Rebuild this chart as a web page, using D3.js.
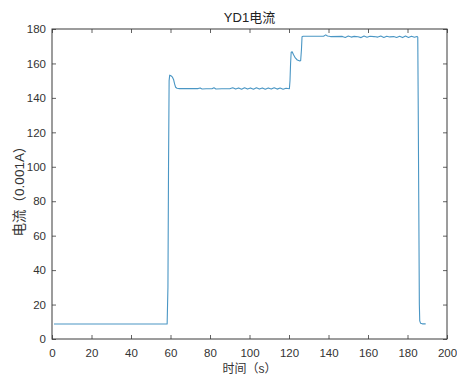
<!DOCTYPE html>
<html>
<head>
<meta charset="utf-8">
<script src="https://cdn.jsdelivr.net/npm/d3@7/dist/d3.min.js"></script>
<style>
  html, body { margin: 0; padding: 0; background: #fff; }
  svg { display: block; }
  .tick text { font-family: "Liberation Sans", Arial, sans-serif; font-size: 11.5px; fill: #333; }
</style>
</head>
<body>
<svg id="chart" width="457" height="377"></svg>
<script>
// YD1 current trace: time (s) and current (0.001 A)
const timeS = [
  1, 58.3,
  58.7, 59.0, 59.3, 59.6, 60.3, 61.0, 61.6, 62.1, 62.6, 63.3, 64.5,
  70, 74, 75, 76, 78, 81, 82, 83, 86, 90, 91.5, 93, 94.5, 96, 97.5, 99, 100.5,
  102, 103.5, 105, 106.5, 108, 109.5, 111, 112.5, 114, 115.5, 117, 118.5, 120.2,
  120.5, 120.8, 121.1, 121.6, 122.3, 123.2, 124.2, 125.2, 125.9, 126.3, 126.6, 127.2,
  132, 137.5, 138.6, 139.5, 141, 147, 148.5, 150, 151.5, 153, 155, 156.5, 158, 159.5,
  161, 163, 165, 166.5, 168, 169.5, 171, 173, 174.5, 176, 177.5, 179, 180.5, 182,
  183.5, 184.8, 185.2,
  185.4, 185.7, 186.0, 186.2, 186.6, 187.5, 189.2
];
const currentmA = [
  8.7, 8.7,
  30, 100, 150, 153.2, 152.8, 152, 150.5, 148, 146.2, 145.6, 145.4,
  145.4, 145.4, 145.8, 145.2, 145.3, 145.3, 145.9, 145.2, 145.3, 145.3, 145.9, 145.1, 145.8, 145.0, 145.9, 145.1, 145.8,
  145.0, 145.9, 145.1, 145.8, 145.0, 145.8, 145.1, 145.9, 145.1, 145.7, 145.0, 145.6, 145.3,
  150, 160, 166.5, 166.8, 165, 163.2, 162, 161.5, 161.6, 168, 175.5, 175.8,
  175.8, 175.8, 176.6, 175.9, 175.6, 175.7, 175.1, 175.9, 175.3, 175.7, 175.5, 175.0, 175.9, 175.2,
  175.8, 175.6, 175.3, 175.9, 175.1, 175.8, 175.4, 175.6, 175.1, 175.8, 175.0, 175.9, 175.1, 175.8,
  175.2, 175.7, 175.3,
  140, 80, 20, 10.5, 9.2, 8.8, 8.8
];
const xTicks = [0, 20, 40, 60, 80, 100, 120, 140, 160, 180, 200];
const yTicks = [0, 20, 40, 60, 80, 100, 120, 140, 160, 180];

const titleText = "YD1电流";
const xLabel = "时间（s）";
const yLabel = "电流（0.001A）";

const margin = { left: 52, top: 29, right: 10, bottom: 38 };
const W = 457, H = 377;
const iw = W - margin.left - margin.right;
const ih = H - margin.top - margin.bottom;

const svg = d3.select("#chart");
const g = svg.append("g").attr("transform", `translate(${margin.left},${margin.top})`);

const x = d3.scaleLinear().domain([0, 200]).range([0, iw]);
const y = d3.scaleLinear().domain([0, 180]).range([ih, 0]);

const axisColor = "#3a3a3a";
const tickLen = 4;

// bottom and left axes with inward ticks
const xAxis = g.append("g").attr("transform", `translate(0,${ih})`)
  .call(d3.axisBottom(x).tickValues(xTicks).tickSizeInner(-tickLen).tickSizeOuter(0).tickPadding(10));
const yAxis = g.append("g")
  .call(d3.axisLeft(y).tickValues(yTicks).tickSizeInner(-tickLen).tickSizeOuter(0).tickPadding(6));
// top and right mirror ticks, no labels
const xTop = g.append("g")
  .call(d3.axisTop(x).tickValues(xTicks).tickSizeInner(-tickLen).tickSizeOuter(0).tickFormat(""));
const yRight = g.append("g").attr("transform", `translate(${iw},0)`)
  .call(d3.axisRight(y).tickValues(yTicks).tickSizeInner(-tickLen).tickSizeOuter(0).tickFormat(""));

[xAxis, yAxis, xTop, yRight].forEach(a => {
  a.select(".domain").remove();
  a.selectAll(".tick line").attr("stroke", axisColor).attr("stroke-width", 0.8);
});

// axes box
g.append("rect")
  .attr("x", 0).attr("y", 0).attr("width", iw).attr("height", ih)
  .attr("fill", "none").attr("stroke", axisColor).attr("stroke-width", 1);

// data line
const pts = timeS.map((t, i) => [t, currentmA[i]]);
const line = d3.line().x(d => x(d[0])).y(d => y(d[1]));
g.append("path")
  .datum(pts)
  .attr("d", line)
  .attr("fill", "none")
  .attr("stroke", "#4a96c4")
  .attr("stroke-width", 1.1)
  .attr("stroke-linejoin", "round");

// title and axis labels
const cjkFont = '"Liberation Sans", "Noto Sans CJK SC", sans-serif';
svg.append("text")
  .attr("x", margin.left + iw / 2).attr("y", 22)
  .attr("text-anchor", "middle")
  .attr("font-family", cjkFont).attr("font-size", 13).attr("fill", "#222")
  .text(titleText);

svg.append("text")
  .attr("x", margin.left + iw / 2).attr("y", 373)
  .attr("text-anchor", "middle")
  .attr("font-family", cjkFont).attr("font-size", 12).attr("fill", "#333")
  .text(xLabel);

svg.append("text")
  .attr("transform", `translate(24,188) rotate(-90)`)
  .attr("text-anchor", "middle")
  .attr("font-family", cjkFont).attr("font-size", 13.5).attr("fill", "#333")
  .text(yLabel);
</script>
</body>
</html>
